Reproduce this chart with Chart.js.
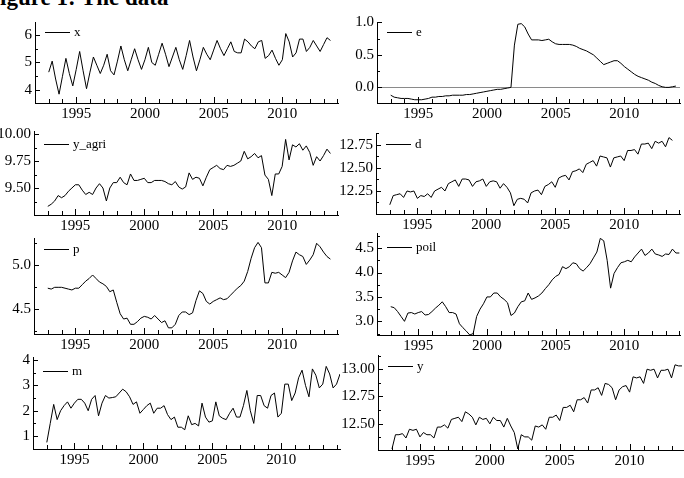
<!DOCTYPE html>
<html lang="en">
<head>
<meta charset="UTF-8">
<title>Figure 1: The data</title>
<style>
  body { margin: 0; width: 684px; height: 478px; overflow: hidden; background: #fff; position: relative; }
  .titulo { position: absolute; left: -14px; top: -14px; font: bold 23px/23px "Liberation Serif", serif; white-space: nowrap; }
  canvas { position: absolute; }
</style>
</head>
<body>
<div class="titulo">Figure 1: The data</div>
<canvas id="c1"></canvas>
<canvas id="c2"></canvas>
<canvas id="c3"></canvas>
<canvas id="c4"></canvas>
<canvas id="c5"></canvas>
<canvas id="c6"></canvas>
<canvas id="c7"></canvas>
<canvas id="c8"></canvas>

<script src="https://cdn.jsdelivr.net/npm/chart.js"></script>
<script>
// quarterly series, first value at the start year given in the panel list
const x_vals = [4.65,5.05,4.4,3.85, 4.5,5.15,4.6,4.15, 4.75,5.4,4.7,4.05, 4.65,5.2,4.9,4.6,
  4.9,5.3,4.7,4.55, 5.05,5.6,5.1,4.7, 5.1,5.5,5.1,4.75, 5.1,5.55,5.0,4.9, 5.3,5.7,5.3,4.85,
  5.2,5.55,5.1,4.75, 5.25,5.8,5.2,4.7, 5.1,5.55,5.3,5.1, 5.45,5.8,5.5,5.25, 5.5,5.75,5.4,5.35,
  5.35,5.85,5.75,5.6, 5.5,5.75,5.8,5.15, 5.25,5.45,5.15,4.9, 5.1,6.05,5.75,5.2, 5.35,5.85,5.85,5.4,
  5.55,5.8,5.6,5.4, 5.65,5.9,5.8];
const e_vals = [-0.12,-0.15,-0.16,-0.17, -0.17,-0.17,-0.18,-0.19, -0.19,-0.19,-0.18,-0.17, -0.15,-0.15,-0.14,-0.14,
  -0.13,-0.13,-0.12,-0.12, -0.12,-0.12,-0.11,-0.11, -0.10,-0.09,-0.08,-0.07, -0.06,-0.05,-0.04,-0.03,
  -0.03,-0.02,-0.01,0.0, 0.65,0.97,0.98,0.93, 0.82,0.73,0.73,0.73, 0.72,0.73,0.74,0.70,
  0.67,0.66,0.66,0.66, 0.66,0.65,0.63,0.60, 0.58,0.56,0.53,0.50, 0.45,0.40,0.35,0.37,
  0.39,0.41,0.41,0.37, 0.32,0.28,0.24,0.20, 0.17,0.15,0.13,0.11, 0.08,0.06,0.03,0.01, 0.0,0.0,0.01,0.02];
const yagri_vals = [9.33,9.35,9.38,9.43, 9.41,9.43,9.47,9.50, 9.53,9.53,9.48,9.44, 9.46,9.44,9.50,9.54,
  9.50,9.38,9.50,9.55, 9.55,9.60,9.55,9.53, 9.63,9.57,9.57,9.58, 9.59,9.55,9.55,9.57,
  9.57,9.57,9.56,9.54, 9.53,9.56,9.51,9.49, 9.51,9.64,9.58,9.60, 9.59,9.52,9.60,9.67,
  9.69,9.71,9.68,9.67, 9.71,9.70,9.71,9.73, 9.75,9.84,9.77,9.79, 9.82,9.78,9.80,9.62,
  9.58,9.43,9.63,9.63, 9.70,9.95,9.76,9.90, 9.88,9.91,9.85,9.89, 9.83,9.71,9.79,9.75, 9.80,9.86,9.82];
const d_vals = [12.10,12.20,12.21,12.22, 12.18,12.25,12.24,12.25, 12.17,12.20,12.19,12.22, 12.18,12.25,12.27,12.29,
  12.25,12.33,12.35,12.37, 12.30,12.38,12.38,12.37, 12.30,12.35,12.36,12.38, 12.30,12.35,12.36,12.35,
  12.28,12.33,12.29,12.23, 12.09,12.16,12.17,12.16, 12.12,12.23,12.25,12.26, 12.21,12.30,12.32,12.35,
  12.29,12.39,12.41,12.42, 12.37,12.46,12.47,12.49, 12.45,12.54,12.56,12.58, 12.52,12.63,12.62,12.61,
  12.51,12.61,12.62,12.63, 12.58,12.69,12.69,12.70, 12.65,12.76,12.76,12.77, 12.71,12.79,12.77,12.79, 12.73,12.83,12.80];
const p_vals = [4.74,4.73,4.75,4.75, 4.75,4.74,4.73,4.72, 4.74,4.74,4.78,4.82, 4.85,4.89,4.85,4.81,
  4.79,4.76,4.70,4.72, 4.58,4.45,4.39,4.40, 4.33,4.33,4.36,4.40, 4.42,4.41,4.39,4.43,
  4.39,4.35,4.37,4.29, 4.29,4.33,4.43,4.47, 4.47,4.44,4.46,4.60, 4.71,4.68,4.59,4.56,
  4.59,4.61,4.63,4.61, 4.62,4.66,4.70,4.74, 4.77,4.82,4.93,5.08, 5.20,5.26,5.20,4.80,
  4.80,4.92,4.91,4.92, 4.89,4.86,4.92,5.05, 5.15,5.12,5.10,5.01, 5.06,5.12,5.25,5.21, 5.15,5.10,5.07];
const poil_vals = [3.30,3.28,3.20,3.10, 3.00,3.17,3.18,3.15, 3.18,3.20,3.13,3.14, 3.20,3.27,3.33,3.40,
  3.30,3.18,3.18,3.15, 2.95,2.87,2.80,2.72, 2.75,3.10,3.25,3.36, 3.50,3.50,3.58,3.58,
  3.50,3.45,3.38,3.12, 3.17,3.30,3.40,3.42, 3.58,3.45,3.48,3.52, 3.58,3.67,3.75,3.85,
  3.92,3.96,4.12,4.08, 4.12,4.20,4.18,4.08, 4.03,4.10,4.18,4.30, 4.42,4.70,4.65,4.25,
  3.68,3.98,4.10,4.20, 4.22,4.25,4.22,4.32, 4.40,4.48,4.35,4.40, 4.48,4.38,4.36,4.33,
  4.38,4.37,4.48,4.40, 4.40];
const m_vals = [0.75,1.5,2.25,1.65, 2.0,2.2,2.35,2.1, 2.3,2.45,2.45,2.3, 2.0,2.45,2.6,1.8,
  2.3,2.6,2.5,2.52, 2.55,2.7,2.85,2.75, 2.55,2.25,2.35,1.9, 2.05,2.2,2.3,1.9,
  2.1,2.1,2.2,1.85, 1.65,1.75,1.35,1.35, 1.25,1.8,1.45,1.5, 1.4,2.3,1.75,1.55,
  1.6,2.35,1.8,1.7, 1.65,1.9,2.1,1.75, 1.75,2.2,2.8,2.0, 1.5,2.6,2.6,2.2,
  2.1,2.6,2.7,1.75, 1.9,3.05,3.05,2.4, 2.7,3.3,3.6,3.0, 2.55,3.65,3.4,2.9,
  3.05,3.75,3.45,2.9, 3.05,3.45];
const y_vals = [12.27,12.40,12.40,12.41, 12.37,12.45,12.44,12.45, 12.38,12.42,12.40,12.40, 12.37,12.47,12.47,12.49,
  12.46,12.54,12.55,12.56, 12.52,12.61,12.59,12.56, 12.49,12.56,12.54,12.55, 12.50,12.56,12.53,12.53,
  12.47,12.55,12.48,12.42, 12.27,12.40,12.38,12.38, 12.35,12.48,12.47,12.49, 12.45,12.56,12.56,12.58,
  12.53,12.65,12.65,12.67, 12.61,12.72,12.72,12.74, 12.69,12.81,12.81,12.83, 12.76,12.87,12.86,12.83,
  12.72,12.81,12.84,12.85, 12.79,12.93,12.92,12.93, 12.87,13.00,12.99,13.00, 12.92,12.99,12.99,13.00,
  12.92,13.04,13.03,13.03];

// tick labels
const year_ticks = [1995, 2000, 2005, 2010];
const x_ticks = [4, 5, 6];
const e_ticks = [0, 0.5, 1.0];
const yagri_ticks = [9.5, 9.75, 10.0];
const d_ticks = [12.25, 12.5, 12.75];
const p_ticks = [4.5, 5.0];
const poil_ticks = [3.0, 3.5, 4.0, 4.5];
const m_ticks = [1, 2, 3, 4];
const y_ticks = [12.5, 12.75, 13.0];

// box = plot area [left, top, right, bottom] in page pixels
const panels = [
  {id:'c1', nome:'x',      vals:x_vals,     inicio:1993, box:[35,22,338,103],  xmax:2014.05, ymin:3.53,  ymax:6.47,  yt:x_ticks,     dec:0, minor:0.5,   legY:10},
  {id:'c2', nome:'e',      vals:e_vals,     inicio:1993, box:[377,22,680,103], xmax:2014.05, ymin:-0.24, ymax:1.005, yt:e_ticks,     dec:1, minor:0.25,  legY:10, zero:true},
  {id:'c3', nome:'y_agri', vals:yagri_vals, inicio:1993, box:[34,131,338,215], xmax:2014.05, ymin:9.25,  ymax:10.028,yt:yagri_ticks, dec:2, minor:0.125, legY:13},
  {id:'c4', nome:'d',      vals:d_vals,     inicio:1993, box:[376,133,680,214],xmax:2014.05, ymin:12.0,  ymax:12.88, yt:d_ticks,     dec:2, minor:0.125, legY:11},
  {id:'c5', nome:'p',      vals:p_vals,     inicio:1993, box:[34,238,338,334], xmax:2014.05, ymin:4.22,  ymax:5.31,  yt:p_ticks,     dec:1, minor:0.25,  legY:11},
  {id:'c6', nome:'poil',   vals:poil_vals,  inicio:1993, box:[377,233,680,335],xmax:2014.05, ymin:2.72,  ymax:4.81,  yt:poil_ticks,  dec:1, minor:0.25,  legY:14},
  {id:'c7', nome:'m',      vals:m_vals,     inicio:1993, box:[33,357,340,449], xmax:2014.25, ymin:0.49,  ymax:4.12,  yt:m_ticks,     dec:0, minor:0.5,   legY:14},
  {id:'c8', nome:'y',      vals:y_vals,     inicio:1993, box:[378,355,689,450],xmax:2014.25, ymin:12.26, ymax:13.13, yt:y_ticks,     dec:2, minor:0.125, legY:11}
];

// inward tick marks, legend line and the zero line
const eixos = {
  id: 'eixos',
  beforeDatasetsDraw(chart, args, o) {
    if (!o.zero) return;
    const {ctx, chartArea: a, scales: {y}} = chart;
    const py = Math.round(y.getPixelForValue(0)) + 0.5;
    ctx.save();
    ctx.strokeStyle = '#8a8a8a';
    ctx.lineWidth = 1;
    ctx.beginPath(); ctx.moveTo(a.left, py); ctx.lineTo(a.right, py); ctx.stroke();
    ctx.restore();
  },
  afterDatasetsDraw(chart, args, o) {
    const {ctx, chartArea: a, scales: {x, y}} = chart;
    ctx.save();
    ctx.strokeStyle = '#000';
    ctx.lineWidth = 1;
    ctx.beginPath();
    for (let yr = Math.ceil(x.min); yr <= x.max; yr++) {
      const px = Math.round(x.getPixelForValue(yr)) + 0.5;
      const len = yr % 5 === 0 ? 6 : 4;
      ctx.moveTo(px, a.bottom); ctx.lineTo(px, a.bottom - len);
    }
    const k0 = Math.ceil(y.min / o.minor - 1e-6);
    for (let k = k0; k * o.minor <= y.max + 1e-6; k++) {
      const v = k * o.minor;
      const major = o.yt.some(t => Math.abs(t - v) < 1e-6);
      const py = Math.round(y.getPixelForValue(v)) + 0.5;
      ctx.moveTo(a.left, py); ctx.lineTo(a.left + (major ? 5 : 3), py);
    }
    // legend
    const ly = Math.round(a.top + o.legY) + 0.5;
    ctx.moveTo(a.left + 10, ly); ctx.lineTo(a.left + 35, ly);
    ctx.stroke();
    ctx.fillStyle = '#000';
    ctx.font = '13px "Liberation Serif"';
    ctx.textBaseline = 'middle';
    ctx.fillText(chart.data.datasets[0].label, a.left + 39, ly);
    ctx.restore();
  }
};

const fonte = {family: 'Liberation Serif', size: 15};

panels.forEach(p => {
  const [l, t, r, b] = p.box;
  const cv = document.getElementById(p.id);
  cv.width = 44 + (r - l) + 4;
  cv.height = 12 + (b - t) + 24;
  cv.style.left = (l - 44) + 'px';
  cv.style.top = (t - 12) + 'px';
  const pontos = p.vals.map((v, i) => ({x: p.inicio + i / 4, y: v}));

  new Chart(cv, {
    type: 'line',
    data: {
      datasets: [{
        label: p.nome,
        data: pontos,
        borderColor: '#000',
        borderWidth: 1,
        pointRadius: 0,
        fill: false,
        tension: 0
      }]
    },
    options: {
      responsive: false,
      animation: false,
      devicePixelRatio: 1,
      layout: {padding: {top: 12, right: 4, left: 0, bottom: 0}},
      plugins: {
        legend: {display: false},
        tooltip: {enabled: false},
        eixos: {yt: p.yt, minor: p.minor, legY: p.legY, zero: !!p.zero}
      },
      scales: {
        x: {
          type: 'linear', min: 1992, max: p.xmax,
          grid: {display: false, drawTicks: false},
          border: {display: true, color: '#000', width: 1},
          afterBuildTicks: s => { s.ticks = year_ticks.map(v => ({value: v})); },
          afterFit: s => { s.height = 24; },
          ticks: {padding: 2, color: '#000', font: fonte, maxRotation: 0, autoSkip: false, callback: v => String(v)}
        },
        y: {
          min: p.ymin, max: p.ymax,
          grid: {display: false, drawTicks: false},
          border: {display: true, color: '#000', width: 1},
          afterBuildTicks: s => { s.ticks = p.yt.map(v => ({value: v})); },
          afterFit: s => { s.width = 44; },
          ticks: {padding: 3, color: '#000', font: fonte, autoSkip: false, callback: v => v.toFixed(p.dec)}
        }
      }
    },
    plugins: [eixos]
  });
});
</script>
</body>
</html>
